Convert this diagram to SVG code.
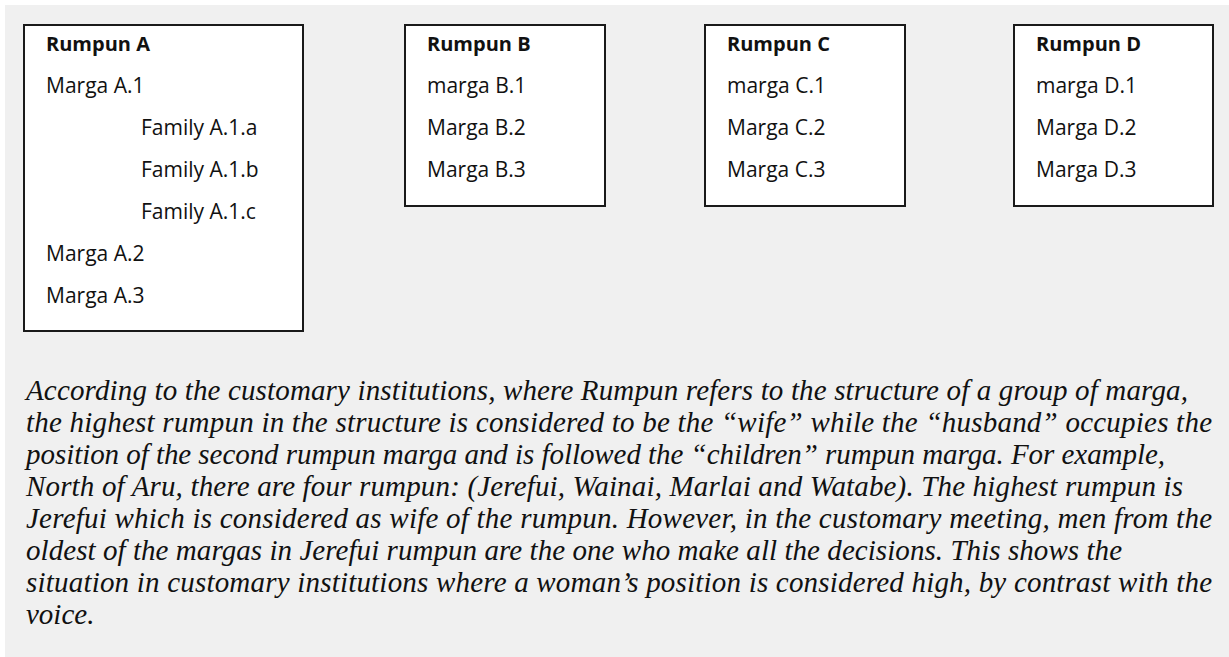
<svg xmlns="http://www.w3.org/2000/svg" width="1229" height="657" viewBox="0 0 1229 657">
  <style>
    .box { fill: #ffffff; stroke: #1a1a1a; stroke-width: 2; }
    .lbl { font-family: "Open Sans", "Liberation Sans", sans-serif; font-size: 21px; fill: #111111; }
    .head { font-weight: bold; font-size: 20px; }
    .para { font-family: "Liberation Serif", "DejaVu Serif", serif; font-style: italic; font-size: 29px; fill: #111111; }
  </style>
  <!-- page background -->
  <rect x="0" y="0" width="1229" height="657" fill="#ffffff"/>
  <rect x="5" y="5" width="1224" height="652" fill="#f0f0f0"/>

  <g id="connectors"></g>

  <g id="rumpun-a">
    <rect class="box" x="24" y="25" width="279" height="306"/>
    <text class="lbl head" x="46" y="51">Rumpun A</text>
    <text class="lbl" x="46" y="93">Marga A.1</text>
    <text class="lbl" x="141" y="135">Family A.1.a</text>
    <text class="lbl" x="141" y="177">Family A.1.b</text>
    <text class="lbl" x="141" y="219">Family A.1.c</text>
    <text class="lbl" x="46" y="261">Marga A.2</text>
    <text class="lbl" x="46" y="303">Marga A.3</text>
  </g>

  <g id="rumpun-b">
    <rect class="box" x="405" y="25" width="200" height="181"/>
    <text class="lbl head" x="427" y="51">Rumpun B</text>
    <text class="lbl" x="427" y="93">marga B.1</text>
    <text class="lbl" x="427" y="135">Marga B.2</text>
    <text class="lbl" x="427" y="177">Marga B.3</text>
  </g>

  <g id="rumpun-c">
    <rect class="box" x="705" y="25" width="200" height="181"/>
    <text class="lbl head" x="727" y="51">Rumpun C</text>
    <text class="lbl" x="727" y="93">marga C.1</text>
    <text class="lbl" x="727" y="135">Marga C.2</text>
    <text class="lbl" x="727" y="177">Marga C.3</text>
  </g>

  <g id="rumpun-d">
    <rect class="box" x="1014" y="25" width="199" height="181"/>
    <text class="lbl head" x="1036" y="51">Rumpun D</text>
    <text class="lbl" x="1036" y="93">marga D.1</text>
    <text class="lbl" x="1036" y="135">Marga D.2</text>
    <text class="lbl" x="1036" y="177">Marga D.3</text>
  </g>

  <!-- explanatory paragraph, line widths set to the column layout -->
  <g id="caption">
    <text class="para" x="26" y="400" textLength="1162" lengthAdjust="spacing">According to the customary institutions, where Rumpun refers to the structure of a group of marga,</text>
    <text class="para" x="26" y="432" textLength="1186" lengthAdjust="spacing">the highest rumpun in the structure is considered to be the “wife” while the “husband” occupies the</text>
    <text class="para" x="26" y="464" textLength="1139" lengthAdjust="spacing">position of the second rumpun marga and is followed the “children” rumpun marga. For example,</text>
    <text class="para" x="26" y="496" textLength="1157" lengthAdjust="spacing">North of Aru, there are four rumpun: (Jerefui, Wainai, Marlai and Watabe). The highest rumpun is</text>
    <text class="para" x="26" y="528" textLength="1186" lengthAdjust="spacing">Jerefui which is considered as wife of the rumpun. However, in the customary meeting, men from the</text>
    <text class="para" x="26" y="560" textLength="1096" lengthAdjust="spacing">oldest of the margas in Jerefui rumpun are the one who make all the decisions. This shows the</text>
    <text class="para" x="26" y="592" textLength="1186" lengthAdjust="spacing">situation in customary institutions where a woman’s position is considered high, by contrast with the</text>
    <text class="para" x="26" y="624">voice.</text>
  </g>
</svg>
